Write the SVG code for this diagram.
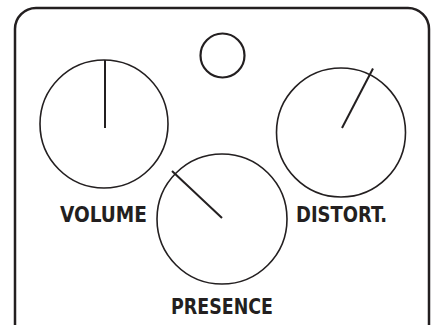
<svg xmlns="http://www.w3.org/2000/svg" width="435" height="325" viewBox="0 0 435 325">
<style>
.knob{fill:none;stroke:#231f20;stroke-width:1.6}
.ptr{stroke:#231f20;stroke-width:2;stroke-linecap:butt}
.lbl{font-family:"DejaVu Sans Condensed","DejaVu Sans",sans-serif;font-weight:bold;font-size:22px;fill:#231f20}
</style>
<rect width="435" height="325" fill="#fff"/>
<path d="M15,340 V29 A21,21 0 0 1 36,8 H408 A21,21 0 0 1 429,29 V340" fill="none" stroke="#231f20" stroke-width="2.5"/>
<g id="led"><circle cx="222.5" cy="55.5" r="22" fill="none" stroke="#231f20" stroke-width="2.2"/></g>
<g id="volume">
<circle class="knob" cx="104" cy="124" r="64"/>
<line class="ptr" x1="105" y1="60" x2="105" y2="128"/>
<text class="lbl" x="60" y="222" textLength="87" lengthAdjust="spacingAndGlyphs">VOLUME</text>
</g>
<g id="distortion">
<circle class="knob" cx="341" cy="132.5" r="64.5"/>
<line class="ptr" x1="373" y1="68.5" x2="342" y2="128"/>
<text class="lbl" x="296" y="222" textLength="91" lengthAdjust="spacingAndGlyphs">DISTORT.</text>
</g>
<g id="presence">
<circle class="knob" cx="222" cy="219" r="65"/>
<line class="ptr" x1="172" y1="171" x2="222" y2="218"/>
<text class="lbl" x="171" y="314" textLength="102" lengthAdjust="spacingAndGlyphs">PRESENCE</text>
</g>
</svg>
